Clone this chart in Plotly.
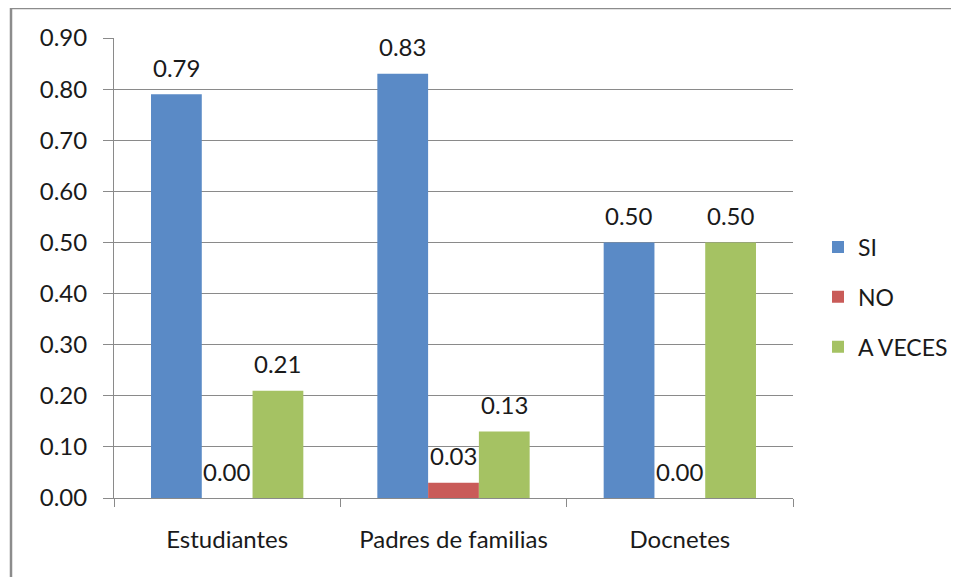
import plotly.graph_objects as go

categories = ["Estudiantes", "Padres de familias", "Docnetes"]
si = [0.79, 0.83, 0.50]
no = [0.00, 0.03, 0.00]
a_veces = [0.21, 0.13, 0.50]
series_names = ["SI", "NO", "A VECES"]
series_colors = ["#5A8AC6", "#C95B58", "#A5C263"]
y_ticks = [0.0, 0.1, 0.2, 0.3, 0.4, 0.5, 0.6, 0.7, 0.8, 0.9]

FONT = "Lato"
TXT = "#1a1a1a"
GRID = "#8a8a8a"
BARGAP = 0.327

W, H = 959, 577
OFF = 8  # page body margin
ML, MR, MT, MB = 114 - OFF, 166 + OFF, 38 - OFF, 79 + OFF

fig = go.Figure()
all_series = [si, no, a_veces]
for k, (name, vals, col) in enumerate(zip(series_names, all_series, series_colors)):
    fig.add_trace(go.Bar(
        x=categories, y=vals, name=name, marker_color=col,
        marker_line_width=0, legendgroup=name,
    ))

# value labels placed over each bar using data coordinates
n = len(all_series)
bw = (1 - BARGAP) / n
annotations = []
for k, vals in enumerate(all_series):
    for i, v in enumerate(vals):
        annotations.append(dict(
            x=i + (k - (n - 1) / 2) * bw, y=v, xref="x", yref="y",
            text=f"{v:.2f}", showarrow=False, yshift=27,
            xanchor="center", yanchor="middle",
            font=dict(family=FONT, size=24, color=TXT),
        ))

pw = W - ML - MR
ph = H - MT - MB
bx = (11 - 114) / pw
by = 1 + (38 - 8) / ph
shapes = [
    dict(type="line", xref="paper", yref="paper", x0=bx, x1=1.5, y0=by, y1=by,
         line=dict(color="#8c8c8c", width=2.5)),
    dict(type="line", xref="paper", yref="paper", x0=bx, x1=bx, y0=by, y1=-0.5,
         line=dict(color="#8c8c8c", width=2.5)),
]

fig.update_layout(
    width=W, height=H,
    margin=dict(l=ML, r=MR, t=MT, b=MB),
    paper_bgcolor="white", plot_bgcolor="white",
    barmode="group", bargap=BARGAP, bargroupgap=0,
    font=dict(family=FONT, size=24, color=TXT),
    annotations=annotations,
    shapes=shapes,
    legend=dict(
        x=(858 - 40 - 114) / pw, y=(498 - 297) / ph, xanchor="left", yanchor="middle",
        font=dict(family=FONT, size=23, color=TXT),
        tracegroupgap=17, bgcolor="rgba(0,0,0,0)",
    ),
    xaxis=dict(
        showline=True, linecolor=GRID, linewidth=1,
        ticks="outside", tickson="boundaries", ticklen=8, tickcolor=GRID,
        ticklabelstandoff=20, showgrid=False,
        tickfont=dict(family=FONT, size=24, color=TXT),
    ),
    yaxis=dict(
        range=[0, 0.9], tickvals=y_ticks, tickformat=".2f",
        showline=True, linecolor=GRID, linewidth=1,
        ticks="outside", ticklen=10, tickcolor=GRID,
        showgrid=True, gridcolor=GRID, gridwidth=1,
        zeroline=False, ticklabelstandoff=11,
        tickfont=dict(family=FONT, size=24, color=TXT),
    ),
)

fig.write_html("out.html")
